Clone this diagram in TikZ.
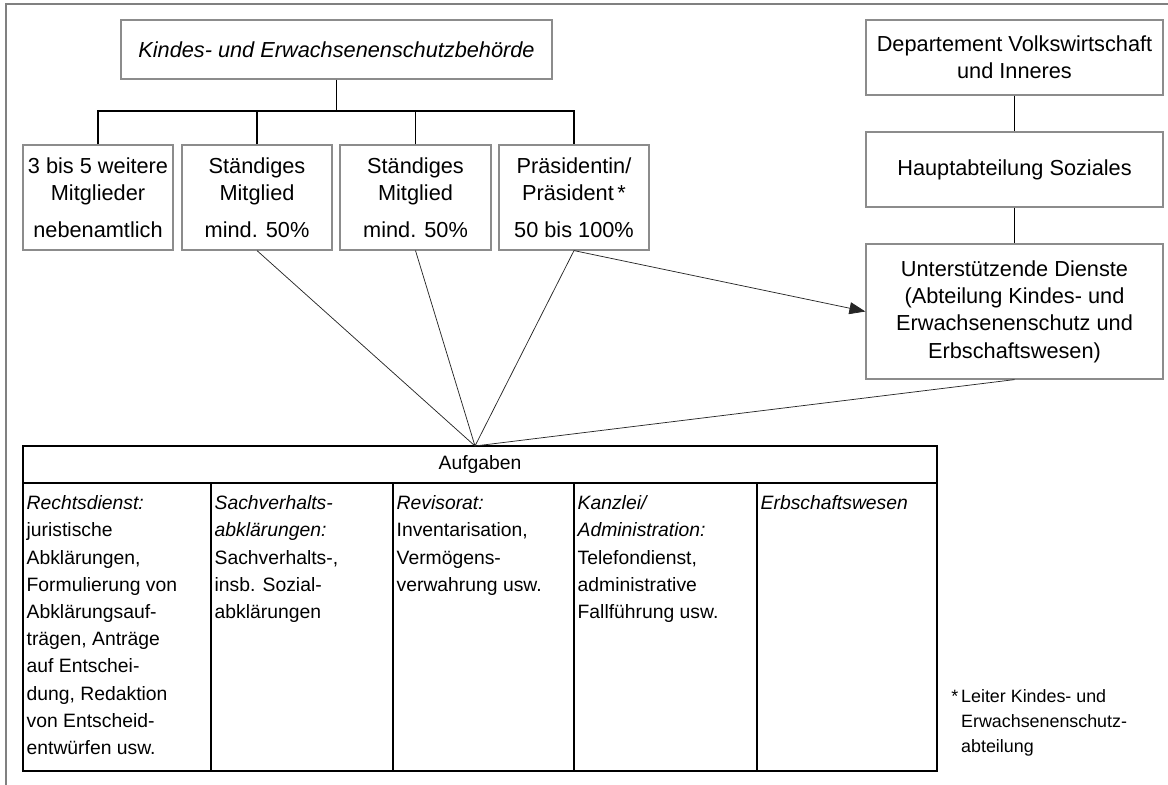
\documentclass[tikz,border=0pt]{standalone}
\usepackage{fontspec}
\setmainfont{Liberation Sans}
\usetikzlibrary{arrows.meta,calc}
\definecolor{boxgray}{gray}{0.55}
\definecolor{framegray}{gray}{0.5}
\begin{document}
\begin{tikzpicture}[x=0.75pt,y=-0.75pt,
  box/.style={draw=boxgray,line width=0.9pt,align=center,inner sep=0pt,
    font=\fontsize{16.3}{20.5}\selectfont},
  sbox/.style={box,minimum width=112.5pt,minimum height=78.75pt},
  rbox/.style={box,minimum width=222.75pt,minimum height=56.25pt},
  conn/.style={draw=black,line width=0.9pt},
  diag/.style={draw=black!85,line width=0.55pt},
  tbl/.style={draw=black,line width=0.9pt,inner sep=0pt,minimum height=216pt},
  cell/.style={anchor=north west,align=left,inner sep=0pt,
    font=\fontsize{14.5}{20.4}\selectfont},
  note/.style={anchor=north west,align=left,inner sep=0pt,
    font=\fontsize{13.4}{18.9}\selectfont}]
\useasboundingbox (0,0) rectangle (1168,785);
\draw[framegray,line width=1.1pt] (6,785) -- (6,4) -- (1168,4);

% top organisation
\node[box,minimum width=323.25pt,minimum height=44.25pt,
  font=\fontsize{16.3}{20.5}\selectfont\itshape] (kesb) at (336.5,49.5)
  {Kindes- und Erwachsenenschutzbehörde};
\node[sbox] (m1) at (98,197.5) {3 bis 5 weitere\\Mitglieder\\[7pt]nebenamtlich};
\node[sbox] (m2) at (257,197.5) {Ständiges\\Mitglied\\[7pt]mind. 50\%};
\node[sbox,minimum width=113.25pt] (m3) at (415.5,197.5) {Ständiges\\Mitglied\\[7pt]mind. 50\%};
\node[sbox] (m4) at (574,197.5) {Präsidentin/\\Präsident\,*\\[7pt]50 bis 100\%};

\coordinate (bus) at (336.5,111);
\draw[conn] (kesb.south) -- (bus);
\draw[conn] (m1.north) |- (bus) -| (m4.north);
\draw[conn] (m2.north) -- (m2.north |- bus);
\draw[conn] (m3.north) -- (m3.north |- bus);

% right column
\node[rbox] (dep) at (1014.5,57.5) {Departement Volkswirtschaft\\und Inneres};
\node[rbox] (has) at (1014.5,169.5) {Hauptabteilung Soziales};
\node[rbox,minimum height=101.25pt] (ud) at (1014.5,311.5)
  {Unterstützende Dienste\\(Abteilung Kindes- und\\Erwachsenenschutz und\\Erbschaftswesen)};
\draw[conn] (dep) -- (has);
\draw[conn] (has) -- (ud);

% table
\node[draw=black,line width=0.9pt,inner sep=0pt,minimum width=685.5pt,minimum height=27.75pt,
  font=\fontsize{14.5}{20.4}\selectfont] (hdr) at (480,464.5) {Aufgaben};
\node[tbl,minimum width=141pt] (c1) at (117,627) {};
\node[tbl,minimum width=136.5pt] (c2) at (302,627) {};
\node[tbl,minimum width=135.75pt] (c3) at (483.5,627) {};
\node[tbl,minimum width=137.25pt] (c4) at (665.5,627) {};
\node[tbl,minimum width=135pt] (c5) at (847,627) {};

\node[cell] (t1) at ($(c1.north west)+(4,13)$) {\textit{Rechtsdienst:}\\juristische\\Abklärungen,\\Formulierung von\\Abklärungsauf-\\trägen, Anträge\\auf Entschei-\\dung, Redaktion\\von Entscheid-\\entwürfen usw.};
\node[cell] (t2) at ($(c2.north west)+(4,13)$) {\textit{Sachverhalts-}\\\textit{abklärungen:}\\Sachverhalts-,\\insb. Sozial-\\abklärungen};
\node[cell] (t3) at ($(c3.north west)+(4,13)$) {\textit{Revisorat:}\\Inventarisation,\\Vermögens-\\verwahrung usw.};
\node[cell] (t4) at ($(c4.north west)+(4,13)$) {\textit{Kanzlei/}\\\textit{Administration:}\\Telefondienst,\\administrative\\Fallführung usw.};
\node[cell] (t5) at ($(c5.north west)+(4,13)$) {\textit{Erbschaftswesen}};

% connectors to table
\coordinate (conv) at (475,446);
\draw[diag] (m2.south) -- (conv);
\draw[diag] (m3.south) -- (conv);
\draw[diag] (m4.south) -- (conv);
\draw[diag] (ud.south) -- (conv);
\draw[diag,-{Triangle[length=12pt,width=9pt]}] (m4.south) -- (ud.west);

% footnote
\node[note] (fn) at (951,689) {*\,Leiter Kindes- und\\\phantom{*\,}Erwachsenenschutz-\\\phantom{*\,}abteilung};
\end{tikzpicture}
\end{document}
